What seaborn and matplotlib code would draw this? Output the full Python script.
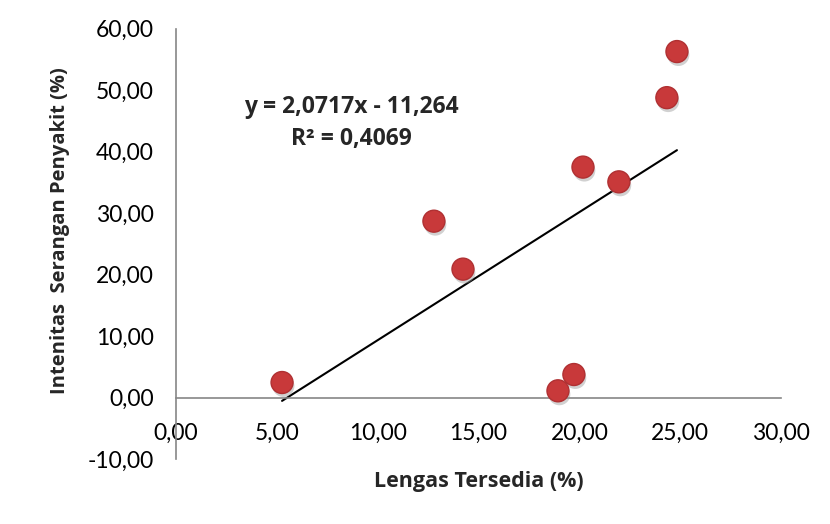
import numpy as np
import pandas as pd
import matplotlib
matplotlib.use('Agg')
import matplotlib.pyplot as plt
import matplotlib.patheffects as pe
from matplotlib.ticker import FuncFormatter
import seaborn as sns

lengas = [5.26, 12.79, 14.23, 18.94, 19.73, 20.18, 21.96, 24.34, 24.84]
intensitas = [2.45, 28.7, 20.9, 1.1, 3.75, 37.5, 35.1, 48.8, 56.3]
eq_text = 'y = 2,0717x - 11,264'
r2_text = 'R² = 0,4069'

df = pd.DataFrame({'x': lengas, 'y': intensitas})

sns.set_style('white')
plt.rcParams['font.family'] = ['Lato', 'DejaVu Sans']
bold_font = ['Open Sans', 'DejaVu Sans']

fig = plt.figure(figsize=(8.3, 5.24), dpi=100)
ax = fig.add_axes([0.212, 0.124, 0.729, 0.821])

sns.regplot(data=df, x='x', y='y', ax=ax, ci=None, scatter=False, truncate=True,
            line_kws={'color': 'black', 'linewidth': 1.5})
pts = ax.scatter(df['x'], df['y'], s=250, color='#C8393A', edgecolor='#B03032',
                 linewidth=1, zorder=3)
pts.set_path_effects([pe.SimplePatchShadow(offset=(1, -2.5), shadow_rgbFace='#999999', alpha=0.45),
                      pe.Normal()])

ax.set_xlim(0, 30)
ax.set_ylim(-10, 60)
ax.set_xticks(np.arange(0, 31, 5))
ax.set_yticks(np.arange(-10, 61, 10))
fmt = FuncFormatter(lambda v, p: f'{v:.2f}'.replace('.', ','))
ax.xaxis.set_major_formatter(fmt)
ax.yaxis.set_major_formatter(fmt)

ax.spines['left'].set_position(('data', 0))
ax.spines['bottom'].set_position(('data', 0))
ax.spines['top'].set_visible(False)
ax.spines['right'].set_visible(False)
for s in ['left', 'bottom']:
    ax.spines[s].set_color('#868686')
    ax.spines[s].set_linewidth(1.2)
ax.tick_params(axis='both', direction='out', length=5, width=1.2, color='#868686',
               labelsize=16.5, labelcolor='black')
ax.tick_params(axis='x', pad=13)
ax.tick_params(axis='y', pad=11)

ax.set_xlabel('Lengas Tersedia (%)', fontsize=15.5, fontweight='bold', family=bold_font)
ax.set_ylabel('Intenitas  Serangan Penyakit (%)', fontsize=14.5, fontweight='bold', family=bold_font)
ax.xaxis.set_label_coords(0.5, -0.028)
ax.yaxis.set_label_coords(-0.175, 0.53)

ax.text(8.7, 47.3, eq_text, fontsize=16.5, fontweight='bold', ha='center', va='center', family=bold_font)
ax.text(8.7, 42.0, r2_text, fontsize=16.5, fontweight='bold', ha='center', va='center', family=bold_font)

fig.savefig('out.png', dpi=100)
